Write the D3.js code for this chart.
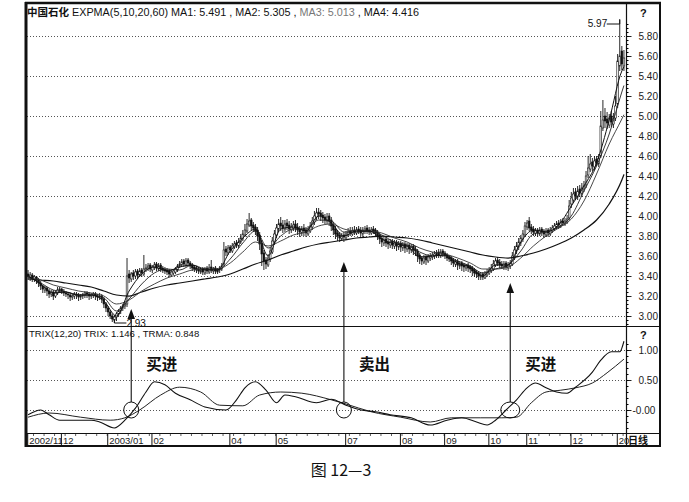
<!DOCTYPE html>
<html><head><meta charset="utf-8">
<script src="https://cdn.jsdelivr.net/npm/d3@7"></script>
<style>body{margin:0;background:#fff}svg{display:block}</style>
</head><body>
<svg id="c" width="689" height="502"></svg>
<script>
// ---------------- DATA ----------------
const openP = [3.42,3.39,3.41,3.37,
3.39,3.36,3.33,3.30,3.26,3.28,3.25,3.22,
3.24,3.20,3.23,3.25,3.27,3.25,3.23,
3.22,3.21,3.19,3.20,3.22,3.21,3.19,3.20,3.21,3.23,3.22,3.20,3.21,3.22,3.20,3.19,
3.20,3.17,3.12,3.08,3.04,3.00,2.96,2.99,
3.02,3.05,3.08,3.10,
3.12,
3.42,3.37,3.43,3.40,3.45,3.41,3.46,3.42,
3.47,3.48,3.51,3.46,3.49,3.52,3.47,3.51,3.48,3.47,
3.46,3.45,3.41,3.43,3.44,3.46,3.50,
3.51,3.55,3.51,3.56,3.53,3.51,3.49,3.48,
3.47,3.44,3.47,3.43,3.48,3.44,3.49,3.45,3.48,3.44,3.46,3.47,
3.52,3.67,3.63,3.69,3.65,3.69,3.73,3.70,
3.74,3.77,3.81,3.85,3.91,3.96,
3.91,3.89,3.86,3.81,
3.73,3.63,3.56,3.51,3.57,
3.64,3.74,3.81,3.87,3.93,
3.91,3.87,3.93,3.91,3.86,3.88,3.92,3.89,3.87,3.83,
3.88,3.86,3.82,3.85,3.89,3.94,3.99,
4.04,4.03,4.01,3.99,3.95,4.00,
3.96,3.91,3.87,3.83,3.81,3.77,3.81,
3.78,3.81,3.85,3.82,3.86,3.83,3.87,3.86,3.82,3.85,3.88,3.86,3.83,3.87,3.86,
3.84,3.81,3.78,3.73,3.77,
3.74,3.71,3.75,3.70,3.74,3.69,3.73,3.68,3.72,3.67,3.71,3.66,3.70,3.67,
3.65,3.61,3.58,3.54,3.59,3.55,3.58,
3.59,3.60,3.61,3.64,3.60,3.65,3.63,3.61,3.59,
3.58,3.56,3.52,3.55,3.50,3.53,3.51,3.48,3.51,3.49,
3.48,3.46,3.44,3.43,3.39,3.42,3.38,3.41,3.43,3.45,
3.47,3.51,3.56,3.54,3.52,3.49,3.53,3.48,3.50,
3.52,3.59,3.65,3.69,3.73,3.77,
3.81,3.89,3.95,3.89,3.87,
3.83,3.86,3.82,3.87,3.85,3.81,3.86,
3.82,3.85,3.87,3.89,3.93,3.90,3.95,3.92,3.94,
3.98,4.12,4.16,4.24,4.19,4.27,
4.22,4.27,4.31,4.41,
4.47,4.54,4.49,4.57,
4.52,4.60,4.88,
5.00,4.97,4.91,5.00,4.92,
4.98,5.12,5.50,5.65,5.50];

const highP = [3.46,3.44,3.43,3.41,
3.40,3.38,3.35,3.31,3.30,3.29,3.27,3.26,
3.26,3.25,3.29,3.29,3.28,3.27,3.25,
3.24,3.23,3.22,3.24,3.24,3.23,3.22,3.23,3.25,3.25,3.24,3.23,3.24,3.24,3.22,3.23,
3.22,3.19,3.14,3.10,3.06,3.02,3.01,3.04,
3.07,3.10,3.12,3.14,
3.58,
3.46,3.44,3.46,3.47,3.47,3.48,3.48,3.61,
3.52,3.53,3.53,3.51,3.54,3.54,3.53,3.53,3.50,3.49,
3.48,3.47,3.46,3.47,3.49,3.52,3.55,
3.57,3.57,3.58,3.58,3.55,3.53,3.51,3.50,
3.49,3.48,3.49,3.49,3.50,3.52,3.56,3.49,3.50,3.48,3.50,3.53,
3.74,3.70,3.71,3.71,3.73,3.75,3.76,3.78,
3.82,3.86,3.92,3.97,4.03,3.98,
3.94,3.92,3.89,3.84,
3.76,3.66,3.59,3.62,3.69,
3.79,3.86,3.92,3.97,3.99,
3.96,3.96,3.97,3.95,3.93,3.95,3.96,3.93,3.90,3.90,
3.92,3.89,3.90,3.94,3.99,4.05,4.08,
4.08,4.06,4.04,4.02,4.03,4.03,
3.99,3.94,3.90,3.86,3.84,3.83,3.84,
3.85,3.88,3.89,3.89,3.90,3.89,3.90,3.89,3.89,3.90,3.91,3.89,3.89,3.90,3.88,
3.86,3.83,3.80,3.79,3.79,
3.77,3.77,3.77,3.76,3.76,3.75,3.75,3.74,3.74,3.73,3.73,3.72,3.72,3.70,
3.67,3.63,3.60,3.61,3.61,3.62,3.63,
3.64,3.65,3.66,3.67,3.67,3.67,3.65,3.63,3.61,
3.60,3.58,3.57,3.57,3.55,3.55,3.53,3.52,3.53,3.51,
3.50,3.48,3.46,3.45,3.44,3.44,3.45,3.47,3.49,3.52,
3.56,3.58,3.59,3.57,3.55,3.55,3.55,3.54,3.56,
3.64,3.70,3.74,3.78,3.81,3.86,
3.94,3.96,3.99,3.92,3.90,
3.88,3.88,3.89,3.89,3.87,3.88,3.88,
3.89,3.91,3.93,3.95,3.96,3.97,3.98,3.98,4.01,
4.16,4.24,4.28,4.28,4.30,4.31,
4.33,4.35,4.45,4.60,
4.62,4.58,4.60,4.60,
4.62,5.05,5.16,
5.08,5.04,5.02,5.05,5.03,
5.20,5.62,5.97,5.70,5.66];

const lowP = [3.36,3.35,3.34,3.34,
3.32,3.29,3.26,3.23,3.23,3.20,3.18,3.19,
3.16,3.18,3.21,3.23,3.22,3.20,3.19,
3.17,3.15,3.16,3.17,3.17,3.15,3.16,3.17,3.18,3.18,3.16,3.17,3.18,3.16,3.15,3.16,
3.13,3.08,3.04,3.00,2.97,2.94,2.93,2.95,
2.99,3.02,3.05,3.07,
3.09,
3.33,3.34,3.36,3.37,3.37,3.39,3.39,3.40,
3.44,3.45,3.44,3.43,3.46,3.45,3.45,3.44,3.43,3.42,
3.41,3.39,3.39,3.41,3.42,3.44,3.48,
3.49,3.49,3.49,3.50,3.47,3.45,3.44,3.43,
3.42,3.42,3.41,3.41,3.42,3.42,3.43,3.42,3.42,3.42,3.43,3.45,
3.50,3.60,3.61,3.63,3.63,3.67,3.68,3.68,
3.72,3.75,3.79,3.83,3.89,3.86,
3.84,3.81,3.75,3.66,
3.50,3.46,3.47,3.49,3.54,
3.62,3.71,3.78,3.84,3.85,
3.83,3.84,3.86,3.82,3.83,3.85,3.84,3.81,3.79,3.80,
3.80,3.79,3.80,3.83,3.86,3.91,3.96,
3.97,3.95,3.93,3.92,3.92,3.90,
3.85,3.81,3.77,3.75,3.74,3.75,3.74,
3.76,3.79,3.80,3.80,3.81,3.81,3.82,3.80,3.79,3.82,3.82,3.81,3.81,3.82,3.80,
3.76,3.72,3.69,3.70,3.69,
3.67,3.68,3.67,3.67,3.65,3.66,3.64,3.65,3.63,3.64,3.62,3.63,3.61,3.60,
3.54,3.52,3.51,3.52,3.51,3.53,3.55,
3.56,3.57,3.58,3.58,3.58,3.59,3.57,3.55,3.54,
3.51,3.49,3.49,3.46,3.47,3.45,3.44,3.45,3.44,3.43,
3.40,3.39,3.38,3.36,3.36,3.36,3.37,3.39,3.41,3.43,
3.45,3.49,3.50,3.48,3.47,3.46,3.46,3.45,3.47,
3.50,3.56,3.62,3.66,3.70,3.74,
3.79,3.86,3.85,3.82,3.80,
3.80,3.79,3.80,3.80,3.78,3.79,3.79,
3.80,3.83,3.85,3.87,3.87,3.88,3.90,3.90,3.92,
3.96,4.08,4.13,4.16,4.16,4.19,
4.19,4.24,4.28,4.38,
4.44,4.45,4.46,4.50,
4.49,4.58,4.85,
4.88,4.87,4.88,4.89,4.88,
4.95,5.08,5.45,5.46,5.45];

const closeP = [3.40,3.41,3.38,3.39,
3.36,3.33,3.30,3.27,3.28,3.25,3.22,3.24,
3.20,3.23,3.26,3.27,3.25,3.23,3.22,
3.21,3.19,3.20,3.22,3.21,3.19,3.20,3.21,3.23,3.22,3.20,3.21,3.22,3.20,3.19,3.20,
3.17,3.12,3.08,3.04,3.00,2.97,2.99,3.02,
3.05,3.08,3.10,3.12,
3.40,
3.38,3.42,3.40,3.44,3.41,3.45,3.43,3.47,
3.48,3.50,3.47,3.49,3.51,3.48,3.50,3.47,3.46,3.45,
3.44,3.42,3.44,3.45,3.47,3.50,3.52,
3.54,3.52,3.55,3.53,3.50,3.48,3.47,3.46,
3.45,3.46,3.44,3.47,3.45,3.48,3.46,3.47,3.45,3.46,3.48,3.50,
3.66,3.64,3.68,3.66,3.70,3.72,3.71,3.74,
3.78,3.82,3.86,3.92,3.95,3.90,
3.88,3.85,3.80,3.72,
3.62,3.55,3.52,3.58,3.65,
3.75,3.82,3.88,3.92,3.90,
3.88,3.92,3.90,3.87,3.89,3.91,3.88,3.86,3.84,3.87,
3.85,3.83,3.86,3.90,3.95,4.00,4.03,
4.02,4.00,3.98,3.96,3.99,3.95,
3.90,3.86,3.82,3.80,3.78,3.80,3.79,
3.82,3.84,3.83,3.85,3.84,3.86,3.85,3.83,3.86,3.87,3.85,3.84,3.86,3.85,3.83,
3.80,3.77,3.74,3.76,3.73,
3.72,3.74,3.71,3.73,3.70,3.72,3.69,3.71,3.68,3.70,3.67,3.69,3.66,3.65,
3.60,3.57,3.55,3.58,3.56,3.59,3.60,
3.61,3.62,3.63,3.61,3.64,3.62,3.60,3.58,3.57,
3.55,3.53,3.54,3.51,3.52,3.50,3.49,3.50,3.48,3.47,
3.45,3.43,3.42,3.40,3.41,3.39,3.42,3.44,3.46,3.48,
3.52,3.55,3.53,3.51,3.50,3.52,3.49,3.51,3.53,
3.60,3.66,3.70,3.74,3.78,3.82,
3.90,3.93,3.88,3.86,3.84,
3.85,3.83,3.86,3.84,3.82,3.85,3.83,
3.86,3.88,3.90,3.92,3.91,3.94,3.93,3.95,3.97,
4.10,4.18,4.22,4.20,4.25,4.23,
4.28,4.30,4.40,4.48,
4.52,4.50,4.55,4.53,
4.58,4.90,4.96,
4.95,4.93,4.98,4.94,4.97,
5.10,5.55,5.60,5.52,5.58];

// EXPMA lines, read at these bar positions
const maIdx = [0,6,12,18,24,30,36,42,48,54,60,66,72,78,84,90,96,102,108,114,120,126,132,138,144,150,156,162,168,174,180,186,192,198,204,210,216,222,228,234,240,246,252,258,264,270,276,282,283];
const ma1 = [3.40,3.32,3.23,3.24,3.21,3.21,3.15,3.00,3.25,3.42,3.49,3.45,3.49,3.51,3.46,3.46,3.65,3.78,3.87,3.60,3.87,3.89,3.85,4.00,3.93,3.80,3.85,3.85,3.77,3.72,3.70,3.59,3.60,3.61,3.53,3.49,3.40,3.51,3.51,3.74,3.86,3.84,3.91,4.10,4.30,4.53,4.96,5.45,5.491];
const ma2 = [3.39,3.33,3.26,3.24,3.21,3.21,3.18,3.05,3.17,3.32,3.43,3.47,3.46,3.51,3.47,3.46,3.57,3.73,3.85,3.68,3.80,3.87,3.87,3.96,3.95,3.84,3.84,3.85,3.81,3.74,3.71,3.64,3.60,3.61,3.55,3.50,3.43,3.47,3.51,3.65,3.82,3.84,3.89,4.00,4.25,4.50,4.82,5.24,5.305];
const ma3 = [3.38,3.36,3.31,3.28,3.25,3.23,3.20,3.12,3.16,3.25,3.32,3.38,3.42,3.46,3.47,3.47,3.53,3.64,3.74,3.70,3.75,3.81,3.84,3.90,3.92,3.87,3.85,3.85,3.83,3.78,3.74,3.68,3.64,3.62,3.58,3.53,3.47,3.47,3.49,3.58,3.70,3.80,3.88,3.97,4.15,4.42,4.72,4.97,5.013];
const ma4 = [3.37,3.36,3.35,3.33,3.31,3.29,3.25,3.21,3.20,3.24,3.28,3.31,3.33,3.35,3.37,3.39,3.42,3.47,3.52,3.56,3.61,3.65,3.69,3.72,3.74,3.76,3.78,3.79,3.80,3.79,3.78,3.76,3.73,3.70,3.67,3.64,3.61,3.59,3.58,3.60,3.63,3.67,3.72,3.78,3.86,3.96,4.12,4.36,4.416];

// TRIX(12,20) panel
const trixIdx = [0,6,10,15,30,34,41,46,51,56,60,65,70,77,84,94,99,103,108,113,118,122,127,137,144,151,158,165,172,182,191,199,206,213,218,222,227,232,237,241,246,251,256,260,268,272,277,281,283];
const trixVal = [-0.08,0.00,-0.08,-0.17,-0.17,-0.20,-0.30,-0.17,0.03,0.30,0.47,0.42,0.28,0.17,0.05,0.00,0.17,0.37,0.47,0.33,0.12,0.25,0.22,0.12,0.18,0.08,0.00,-0.03,-0.08,-0.13,-0.25,-0.17,-0.13,-0.20,-0.25,-0.17,0.00,0.17,0.37,0.45,0.37,0.30,0.28,0.38,0.63,0.83,0.97,0.97,1.146];
const trmaIdx = [0,10,25,39,46,53,63,72,82,91,102,110,120,130,144,151,163,177,191,201,215,225,232,239,246,253,260,268,275,283];
const trmaVal = [-0.12,-0.05,-0.12,-0.17,-0.13,0.00,0.25,0.38,0.30,0.08,0.07,0.25,0.30,0.28,0.17,0.10,-0.03,-0.12,-0.20,-0.13,-0.13,-0.13,-0.12,0.12,0.30,0.33,0.37,0.45,0.62,0.848];

// axis tick labels
const priceTicks = [3.00,3.20,3.40,3.60,3.80,4.00,4.20,4.40,4.60,4.80,5.00,5.20,5.40,5.60,5.80];
const priceGrid = [3.00,3.40,3.80,4.20,4.60,5.00,5.40,5.80];
const trixTicks = [1.00,0.50,0.00];
const trixTickLabels = ["1.00","0.50","-0.00"];
const monthIdx = [0,16,38,59,96,118,151,177,198,219,237,258,280];
const monthLabels = ["2002/11","12","2003/01","02","04","05","07","08","09","10","11","12","20"];

// signals: [bar index, label, arrow tip price]
const signalIdx = [49,150,229];
const signalLabel = ["买进","卖出","买进"];
const signalTip = [3.07,3.54,3.33];

// ---------------- DRAWING ----------------
const svg = d3.select("#c");
const N = closeP.length;
const L = 27, R = 625;
const x = d3.scaleBand().domain(d3.range(N)).range([L, R]).paddingInner(0.2).paddingOuter(0.1);
const xc = i => x(i) + x.bandwidth() / 2;
const yP = d3.scaleLinear().domain([3.0, 5.8]).range([316, 36]);
const yT = d3.scaleLinear().domain([0, 1]).range([410, 350]);
const font = "'Liberation Sans', Arial, sans-serif";
const cjk = "'Noto Sans CJK SC', sans-serif";

svg.append("rect").attr("width", 689).attr("height", 502).attr("fill", "#fff");

// gridlines
svg.append("g").selectAll("line").data(priceGrid).join("line")
  .attr("x1", L).attr("x2", R).attr("y1", d => yP(d) + 0.5).attr("y2", d => yP(d) + 0.5)
  .attr("stroke", "#555").attr("stroke-dasharray", "1,2");
svg.append("g").selectAll("line").data(trixTicks).join("line")
  .attr("x1", L).attr("x2", R).attr("y1", d => yT(d) + 0.5).attr("y2", d => yT(d) + 0.5)
  .attr("stroke", "#555").attr("stroke-dasharray", "1,2");

// candles
const bars = svg.append("g");
const bw = Math.max(1.2, x.bandwidth());
bars.selectAll("line").data(d3.range(N)).join("line")
  .attr("x1", i => xc(i)).attr("x2", i => xc(i))
  .attr("y1", i => yP(highP[i])).attr("y2", i => yP(lowP[i]))
  .attr("stroke", "#111").attr("stroke-width", 0.9);
bars.selectAll("rect").data(d3.range(N)).join("rect")
  .attr("x", i => xc(i) - bw / 2).attr("width", bw)
  .attr("y", i => yP(Math.max(openP[i], closeP[i])))
  .attr("height", i => Math.max(0.8, Math.abs(yP(openP[i]) - yP(closeP[i]))))
  .attr("fill", i => closeP[i] >= openP[i] ? "#fff" : "#111")
  .attr("stroke", "#111").attr("stroke-width", 0.6);

// EXPMA lines
const lineP = d3.line().x(d => xc(d[0])).y(d => yP(d[1])).curve(d3.curveMonotoneX);
[[ma4, "#111", 1.25], [ma3, "#333", 0.9], [ma2, "#222", 0.9], [ma1, "#111", 1]].forEach(([arr, col, w]) => {
  svg.append("path").datum(maIdx.map((k, j) => [k, arr[j]]))
    .attr("d", lineP).attr("fill", "none").attr("stroke", col).attr("stroke-width", w);
});

// TRIX lines
const lineT = d3.line().x(d => xc(d[0])).y(d => yT(d[1])).curve(d3.curveMonotoneX);
svg.append("path").datum(trmaIdx.map((k, j) => [k, trmaVal[j]]))
  .attr("d", lineT).attr("fill", "none").attr("stroke", "#222").attr("stroke-width", 1);
svg.append("path").datum(trixIdx.map((k, j) => [k, trixVal[j]]))
  .attr("d", lineT).attr("fill", "none").attr("stroke", "#111").attr("stroke-width", 1.1);

// frame & separators
const fr = svg.append("g").attr("stroke", "#111").attr("fill", "none");
fr.append("line").attr("x1", 26).attr("x2", 26).attr("y1", 2).attr("y2", 447).attr("stroke-width", 3);
fr.append("line").attr("x1", 25).attr("x2", 661).attr("y1", 3).attr("y2", 3).attr("stroke-width", 2.5);
fr.append("line").attr("x1", 660).attr("x2", 660).attr("y1", 2).attr("y2", 447).attr("stroke-width", 2);
fr.append("line").attr("x1", 25).attr("x2", 661).attr("y1", 446).attr("y2", 446).attr("stroke-width", 2);
fr.append("line").attr("x1", 626.5).attr("x2", 626.5).attr("y1", 3).attr("y2", 446).attr("stroke-width", 1.2);
fr.append("line").attr("x1", 26).attr("x2", 660).attr("y1", 326.5).attr("y2", 326.5).attr("stroke-width", 1.2);
fr.append("line").attr("x1", 26).attr("x2", 660).attr("y1", 433.5).attr("y2", 433.5).attr("stroke-width", 1.2);

// right axes
const axP = d3.axisRight(yP).tickValues(priceTicks).tickFormat(d3.format(".2f")).tickSize(5).tickPadding(7);
const gP = svg.append("g").attr("transform", "translate(626.5,0)").call(axP);
const axPm = d3.axisRight(yP).tickValues(d3.range(2.92, 5.96, 0.04)).tickFormat("").tickSize(2);
svg.append("g").attr("transform", "translate(626.5,0)").call(axPm).call(g => g.select(".domain").remove());
const axT = d3.axisRight(yT).tickValues(trixTicks).tickFormat((d, i) => trixTickLabels[i]).tickSize(5).tickPadding(7);
const gT = svg.append("g").attr("transform", "translate(626.5,0)").call(axT);
const axTm = d3.axisRight(yT).tickValues(d3.range(-0.3, 1.2, 0.1)).tickFormat("").tickSize(2);
svg.append("g").attr("transform", "translate(626.5,0)").call(axTm).call(g => g.select(".domain").remove());
[gP, gT].forEach(g => {
  g.select(".domain").remove();
  g.selectAll("text").attr("font-family", font).attr("font-size", 10).attr("fill", "#222");
  g.selectAll("line").attr("stroke", "#222");
});
gT.selectAll("text").filter((d, i) => i === 2).attr("dx", -6);

// date axis
const gx = svg.append("g");
gx.selectAll("line.minor").data(d3.range(3, N, 5)).join("line").attr("class", "minor")
  .attr("x1", i => x(i)).attr("x2", i => x(i)).attr("y1", 434).attr("y2", 436)
  .attr("stroke", "#333").attr("stroke-width", 0.8);
gx.selectAll("line.major").data(monthIdx).join("line").attr("class", "major")
  .attr("x1", i => x(i) + 0.5).attr("x2", i => x(i) + 0.5).attr("y1", 434).attr("y2", 445)
  .attr("stroke", "#111").attr("stroke-width", 1);
gx.selectAll("text").data(monthIdx).join("text")
  .attr("x", i => x(i) + 2).attr("y", 443.5).text((d, j) => monthLabels[j])
  .attr("font-family", font).attr("font-size", 9.5).attr("fill", "#222");
svg.append("text").attr("x", 628).attr("y", 444).text("日线")
  .attr("font-family", cjk).attr("font-size", 10).attr("font-weight", 700).attr("fill", "#111");

// headers
const h1 = svg.append("text").attr("x", 27).attr("y", 15.5).attr("font-family", font).attr("font-size", 10.8).attr("fill", "#111");
h1.append("tspan").attr("font-family", cjk).attr("font-weight", 700).attr("font-size", 10.5).text("中国石化");
h1.append("tspan").text(" EXPMA(5,10,20,60)  MA1: 5.491 , MA2: 5.305 , ");
h1.append("tspan").attr("fill", "#777").text("MA3: 5.013 ");
h1.append("tspan").text(", MA4: 4.416");
svg.append("text").attr("x", 29).attr("y", 337).attr("font-family", font).attr("font-size", 9.6).attr("fill", "#111")
  .text("TRIX(12,20) TRIX: 1.146 , TRMA: 0.848");
[13, 335].forEach(yy => svg.append("text").attr("x", 640).attr("y", yy + 4).text("?")
  .attr("font-family", font).attr("font-weight", 700).attr("font-size", 11).attr("fill", "#111"));

// high / low annotations
const iHi = highP.indexOf(d3.max(highP)), iLo = lowP.indexOf(d3.min(lowP));
svg.append("path").attr("d", `M${xc(iHi) - 13},${yP(d3.max(highP)) + 5}H${xc(iHi)}V${yP(d3.max(highP)) + 1}`)
  .attr("fill", "none").attr("stroke", "#111");
svg.append("text").attr("x", xc(iHi) - 32).attr("y", yP(d3.max(highP)) + 8).text(d3.format(".2f")(d3.max(highP)))
  .attr("font-family", font).attr("font-size", 10).attr("fill", "#111");
svg.append("path").attr("d", `M${xc(iLo)},${yP(d3.min(lowP)) - 4}V${yP(d3.min(lowP))}H${xc(iLo) + 12}`)
  .attr("fill", "none").attr("stroke", "#111");
svg.append("text").attr("x", xc(iLo) + 12).attr("y", yP(d3.min(lowP)) + 4).text(d3.format(".2f")(d3.min(lowP)))
  .attr("font-family", font).attr("font-size", 10).attr("fill", "#111");

// signals: circles, arrows, labels
signalIdx.forEach((k, j) => {
  const cx = xc(k), cy = 410;
  svg.append("ellipse").attr("cx", cx).attr("cy", cy).attr("rx", j === 2 ? 9.5 : 7.5).attr("ry", 8)
    .attr("fill", "none").attr("stroke", "#111").attr("stroke-width", 1);
  const tip = yP(signalTip[j]);
  svg.append("line").attr("x1", cx).attr("x2", cx).attr("y1", cy - 8).attr("y2", tip + 6)
    .attr("stroke", "#111").attr("stroke-width", 1.1);
  svg.append("path").attr("d", `M${cx},${tip}L${cx - 3.8},${tip + 10}L${cx + 3.8},${tip + 10}Z`).attr("fill", "#111");
  svg.append("text").attr("x", cx + 15).attr("y", 370).text(signalLabel[j])
    .attr("font-family", cjk).attr("font-weight", 700).attr("font-size", 15.5).attr("fill", "#111");
});

// caption
svg.append("text").attr("x", 341).attr("y", 476).attr("text-anchor", "middle").text("图 12—3")
  .attr("font-family", cjk).attr("font-size", 16).attr("fill", "#111");
</script>
</body></html>
